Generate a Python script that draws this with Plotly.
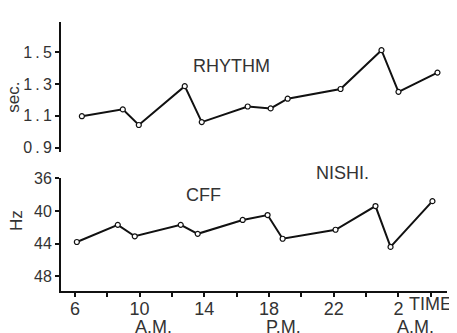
import plotly.graph_objects as go

# Data
rhythm_time = [6.43, 8.96, 9.95, 12.79, 13.84, 16.68, 18.10, 19.15, 22.42, 24.95, 26.0, 28.41]
rhythm_sec = [1.097, 1.14, 1.042, 1.286, 1.06, 1.158, 1.146, 1.207, 1.268, 1.512, 1.25, 1.371]

cff_time = [6.12, 8.65, 9.7, 12.54, 13.59, 16.37, 17.91, 18.84, 22.11, 24.58, 25.51, 28.1]
cff_hz = [43.8, 41.7, 43.1, 41.7, 42.8, 41.1, 40.5, 43.4, 42.3, 39.4, 44.4, 38.8]

x_tickvals = [6, 8, 10, 12, 14, 16, 18, 20, 22, 24, 26, 28]
x_ticktext = ["6", "", "10", "", "14", "", "18", "", "22", "", "2", ""]
sec_tickvals = [0.9, 1.1, 1.3, 1.5]
sec_ticktext = ["0\u2009.\u20099", "1\u2009.\u20091", "1\u2009.\u20093", "1\u2009.\u20095"]
hz_tickvals = [36, 40, 44, 48]
hz_ticktext = ["36", "40", "44", "48"]

FONT = "Liberation Sans"
TXT = "#333333"
INK = "#111111"

marker = dict(size=5, color="white", line=dict(color=INK, width=1.2), symbol="circle")

fig = go.Figure()
fig.add_trace(go.Scatter(x=rhythm_time, y=rhythm_sec, mode="lines+markers",
                         line=dict(color=INK, width=2), marker=marker,
                         xaxis="x", yaxis="y", showlegend=False))
fig.add_trace(go.Scatter(x=cff_time, y=cff_hz, mode="lines+markers",
                         line=dict(color=INK, width=2), marker=marker,
                         xaxis="x", yaxis="y2", showlegend=False))

# page body has an 8px margin, so the figure is sized/offset to compensate
fig.update_layout(
    width=449, height=325,
    margin=dict(l=53, r=10, t=6, b=42),
    paper_bgcolor="white", plot_bgcolor="white",
    font=dict(family=FONT, size=16, color=TXT),
    xaxis=dict(range=[5.14, 29.0], anchor="y2", showline=True, linecolor=INK, linewidth=2,
               ticks="outside", ticklen=4, tickwidth=2, tickcolor=INK,
               tickvals=x_tickvals, ticktext=x_ticktext, showgrid=False, zeroline=False,
               ticklabelstandoff=-4, tickfont=dict(size=18, color=TXT)),
    yaxis=dict(domain=[0.516, 1.0], range=[0.871, 1.689], anchor="x", showline=True,
               linecolor=INK, linewidth=2, ticks="outside", ticklen=4, tickwidth=2,
               tickcolor=INK, tickvals=sec_tickvals, ticktext=sec_ticktext,
               showgrid=False, zeroline=False, tickfont=dict(size=16, color=TXT)),
    yaxis2=dict(domain=[0.0, 0.419], range=[49.8, 36], anchor="x", showline=True,
                linecolor=INK, linewidth=2, ticks="outside", ticklen=4, tickwidth=2,
                tickcolor=INK, tickvals=hz_tickvals, ticktext=hz_ticktext,
                showgrid=False, zeroline=False, tickfont=dict(size=16, color=TXT)),
)

ann = [
    dict(text="RHYTHM", x=15.7, y=0.835, xref="x", yref="paper", size=18),
    dict(text="CFF", x=13.96, y=0.357, xref="x", yref="paper", size=18),
    dict(text="NISHI.", x=22.54, y=0.437, xref="x", yref="paper", size=18),
    dict(text="A.M.", x=10.85, y=-0.135, xref="x", yref="paper", size=18),
    dict(text="P.M.", x=18.9, y=-0.135, xref="x", yref="paper", size=18),
    dict(text="A.M.", x=27.05, y=-0.135, xref="x", yref="paper", size=18),
    dict(text="TIME", x=27.95, y=-0.049, xref="x", yref="paper", size=18),
    dict(text="sec.", x=-0.122, y=0.722, xref="paper", yref="paper", size=17, textangle=-90),
    dict(text="Hz", x=-0.114, y=0.264, xref="paper", yref="paper", size=17, textangle=-90),
]
for a in ann:
    size = a.pop("size")
    fig.add_annotation(showarrow=False, xanchor="center", yanchor="middle",
                       font=dict(family=FONT, size=size, color=TXT), **a)

fig.write_html("out.html")
